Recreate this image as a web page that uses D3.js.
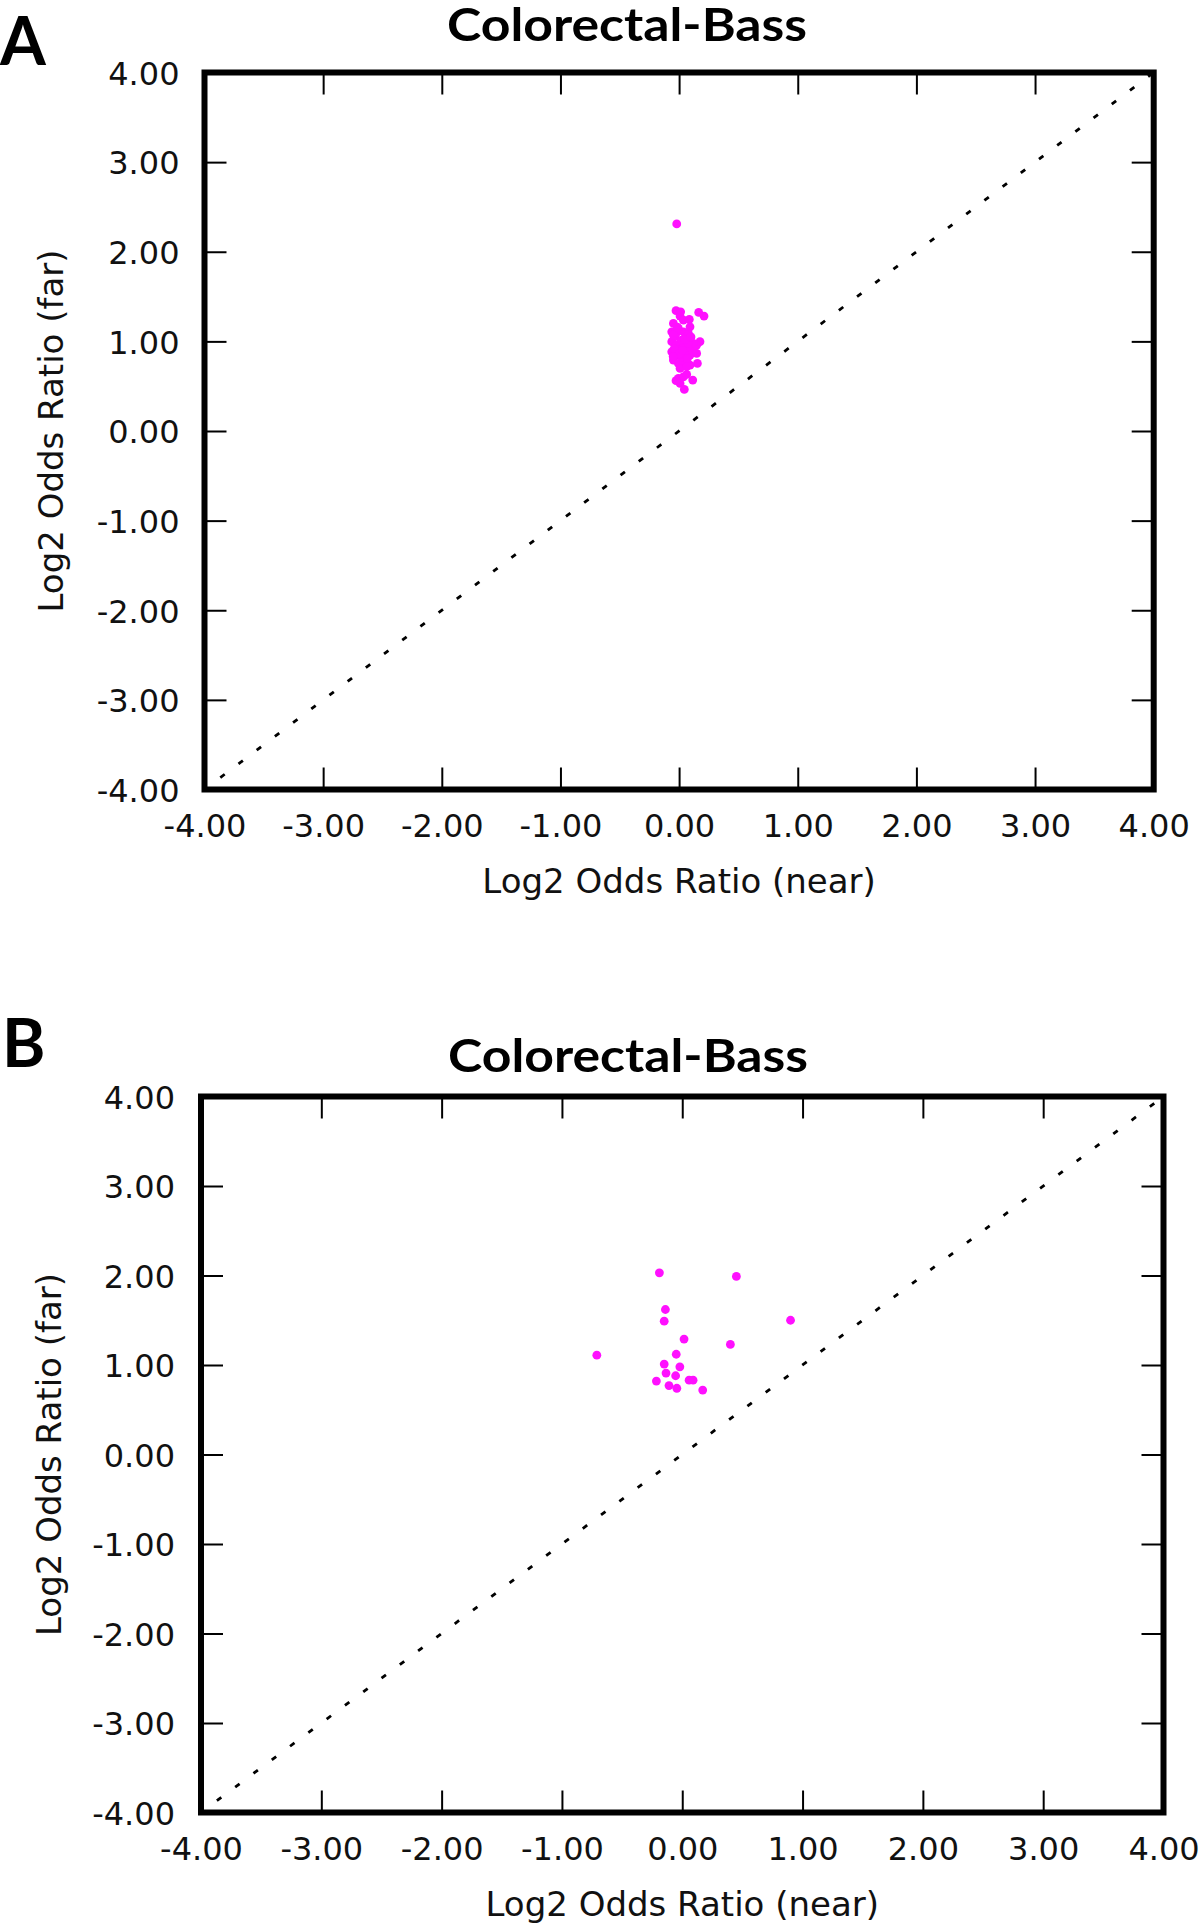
<!DOCTYPE html>
<html>
<head>
<meta charset="utf-8">
<script src="https://cdn.jsdelivr.net/npm/d3@7"></script>
<style>
  body { margin: 0; background: #fff; }
  svg { display: block; }
</style>
</head>
<body>
<svg id="chart" width="1200" height="1923"></svg>
<script>
// Panel A: Log2 odds ratio near (x) vs far (y)
const nearA = [-0.02, -0.026, 0.013, 0.008, 0.036, 0.086, 0.165, 0.21, -0.048, -0.062,
  -0.026, 0.036, 0.078, 0.064, 0.176, 0.148, 0.12, -0.062, -0.034, 0.008,
  -0.062, -0.02, 0.022, 0.064, 0.092, 0.148, -0.048, -0.006, 0.036, 0.092,
  0.154, 0.008, 0.064, 0.022, -0.034, -0.006, 0.092, 0.12, -0.006, 0.036,
  0.064, 0.115, 0.008, 0.044, -0.026, -0.02, 0.036, -0.006, 0.05, -0.048,
  0.022, 0.078, -0.04, 0.0, 0.05, -0.015, 0.07, 0.1, -0.05, 0.03];
const farA = [2.31, 1.342, 1.33, 1.282, 1.238, 1.245, 1.323, 1.282, 1.2, 1.107,
  1.089, 1.107, 1.089, 1.033, 0.996, 0.959, 0.903, 0.996, 0.94, 0.977,
  0.884, 0.847, 0.884, 0.921, 0.847, 0.866, 0.791, 0.754, 0.773, 0.735,
  0.754, 0.698, 0.717, 0.828, 1.052, 1.145, 1.163, 0.977, 0.587, 0.605,
  0.631, 0.568, 0.531, 0.464, 0.561, 0.959, 0.94, 0.903, 0.847, 1.07,
  1.014, 0.977, 0.92, 0.86, 1.02, 1.16, 0.81, 1.05, 0.83, 0.9];

// Panel B
const nearB = [-0.19, 0.45, -0.14, -0.15, 0.9, 0.015, 0.4, -0.71, -0.05, -0.15,
  -0.02, -0.135, -0.055, -0.215, 0.057, 0.09, -0.11, -0.045, 0.17];
const farB = [2.03, 1.99, 1.62, 1.49, 1.5, 1.29, 1.23, 1.11, 1.12, 1.01,
  0.98, 0.91, 0.88, 0.82, 0.83, 0.83, 0.77, 0.74, 0.72];

const axisTicks = [-4, -3, -2, -1, 0, 1, 2, 3, 4];
const domain = [-4, 4];
const diag = [-4, 4];

const titleText = "Colorectal-Bass";
const xLabel = "Log2 Odds Ratio (near)";
const yLabel = "Log2 Odds Ratio (far)";

const svg = d3.select("#chart");
const tickFont = "DejaVu Sans, sans-serif";

const drawPanel = (cfg) => {
  const g = svg.append("g");

  const x = d3.scaleLinear().domain(domain).range([cfg.left, cfg.right]);
  const y = d3.scaleLinear().domain(domain).range([cfg.bottom, cfg.top]);
  const fmt = d => d.toFixed(2);

  // clip for the diagonal
  g.append("clipPath").attr("id", "clip" + cfg.letter)
    .append("rect")
    .attr("x", cfg.left).attr("y", cfg.top)
    .attr("width", cfg.right - cfg.left).attr("height", cfg.bottom - cfg.top);

  // dotted y = x line
  g.append("path")
    .datum(diag)
    .attr("clip-path", `url(#clip${cfg.letter})`)
    .attr("d", d3.line().x(d => x(d)).y(d => y(d)))
    .attr("fill", "none")
    .attr("stroke", "#000")
    .attr("stroke-width", 2.8)
    .attr("stroke-dasharray", "5.5,17.3")
    .attr("stroke-dashoffset", 3);

  // points
  g.selectAll(".dot")
    .data(cfg.near.map((n, i) => ({ n, f: cfg.far[i] })))
    .enter().append("circle")
    .attr("class", "dot")
    .attr("cx", d => x(d.n))
    .attr("cy", d => y(d.f))
    .attr("r", 4.4)
    .attr("fill", "#ff10ff");

  // axes, ticks pointing inward on all four sides
  const bottom = g.append("g")
    .attr("transform", `translate(0,${cfg.bottom})`)
    .call(d3.axisBottom(x).tickValues(axisTicks).tickSize(-22).tickPadding(25).tickFormat(fmt));
  const left = g.append("g")
    .attr("transform", `translate(${cfg.left},0)`)
    .call(d3.axisLeft(y).tickValues(axisTicks).tickSize(-22).tickPadding(cfg.yPad).tickFormat(fmt));
  const top = g.append("g")
    .attr("transform", `translate(0,${cfg.top})`)
    .call(d3.axisTop(x).tickValues(axisTicks).tickSize(-22).tickFormat(""));
  const right = g.append("g")
    .attr("transform", `translate(${cfg.right},0)`)
    .call(d3.axisRight(y).tickValues(axisTicks).tickSize(-22).tickFormat(""));

  [bottom, left, top, right].forEach(a => {
    a.select(".domain").remove();
    a.selectAll("line").attr("stroke", "#000").attr("stroke-width", 2);
    a.selectAll("text")
      .attr("font-family", tickFont)
      .attr("font-size", "32px")
      .attr("fill", "#111");
  });
  left.selectAll("text").attr("dy", "0.37em");

  // frame
  g.append("rect")
    .attr("x", cfg.left).attr("y", cfg.top)
    .attr("width", cfg.right - cfg.left).attr("height", cfg.bottom - cfg.top)
    .attr("fill", "none")
    .attr("stroke", "#000")
    .attr("stroke-width", 6);

  // axis labels
  g.append("text")
    .attr("x", (cfg.left + cfg.right) / 2)
    .attr("y", cfg.xLabelY)
    .attr("text-anchor", "middle")
    .attr("font-family", tickFont)
    .attr("font-size", "34px")
    .attr("fill", "#111")
    .text(xLabel);

  g.append("text")
    .attr("transform", `translate(${cfg.yLabelX},${(cfg.top + cfg.bottom) / 2}) rotate(-90)`)
    .attr("text-anchor", "middle")
    .attr("font-family", tickFont)
    .attr("font-size", "34px")
    .attr("fill", "#111")
    .text(yLabel);

  // title and panel letter
  g.append("text")
    .attr("x", cfg.titleX)
    .attr("y", cfg.titleY)
    .attr("text-anchor", "middle")
    .attr("font-family", "Lato, sans-serif")
    .attr("font-weight", "bold")
    .attr("font-size", "45px")
    .attr("textLength", 360)
    .attr("lengthAdjust", "spacingAndGlyphs")
    .attr("fill", "#000")
    .text(titleText);

  g.append("text")
    .attr("x", cfg.letterX)
    .attr("y", cfg.letterY)
    .attr("font-family", "Lato, sans-serif")
    .attr("font-weight", "bold")
    .attr("font-size", "66px")
    .attr("fill", "#000")
    .text(cfg.letter);
};

drawPanel({
  letter: "A", near: nearA, far: farA,
  left: 204.5, right: 1153.7, top: 72.5, bottom: 789.5,
  yPad: 25, xLabelY: 893, yLabelX: 63,
  titleX: 627, titleY: 41, letterX: 0, letterY: 65
});

drawPanel({
  letter: "B", near: nearB, far: farB,
  left: 201, right: 1163.5, top: 1096.5, bottom: 1812.5,
  yPad: 26, xLabelY: 1916, yLabelX: 61,
  titleX: 628, titleY: 1072, letterX: 2, letterY: 1067
});
</script>
</body>
</html>
